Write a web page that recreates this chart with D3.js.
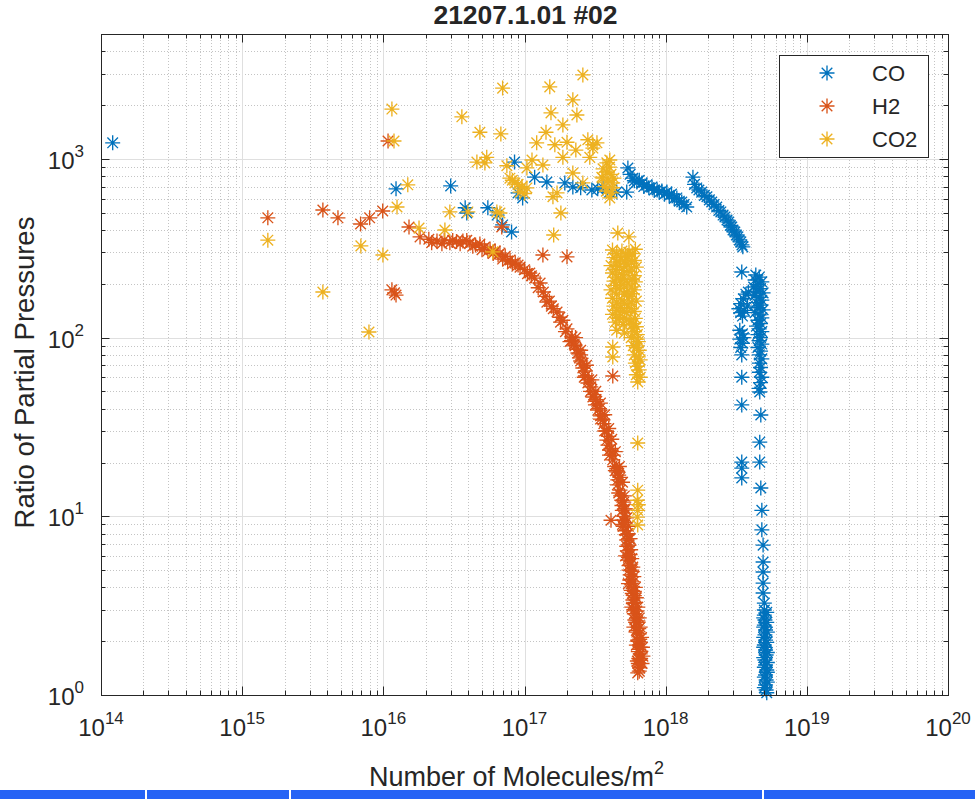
<!DOCTYPE html>
<html>
<head>
<meta charset="utf-8">
<script src="https://cdn.jsdelivr.net/npm/d3@7"></script>
<style>
  body { margin: 0; background: #fff; }
  text { font-family: "Liberation Sans", Arial, sans-serif; fill: #262626; }
</style>
</head>
<body>
<script>
// chart values: [molecules per m^2, ratio]
const co = [
  [1.21e14, 1230], [1.23e16, 680], [3.0e16, 706], [3.8e16, 533], [3.9e16, 498],
  [5.5e16, 533], [6.4e16, 485], [7.0e16, 427], [8.1e16, 390], [8.5e16, 960],
  [9.0e16, 645], [9.7e16, 605], [1.18e17, 790], [1.44e17, 743], [1.93e17, 734],
  [2.2e17, 697], [2.5e17, 690], [3.0e17, 670], [3.3e17, 680], [3.6e17, 688],
  [4.0e17, 652], [4.5e17, 652], [5.3e17, 652],
  [5.4e17, 890], [5.6e17, 820], [5.85e17, 780], [6.0e17, 755], [6.25e17, 743],
  [6.5e17, 760], [6.8e17, 734], [7.0e17, 700], [7.35e17, 715], [7.6e17, 690],
  [8.0e17, 697], [8.3e17, 670], [8.7e17, 670], [9.0e17, 650], [9.4e17, 661],
  [9.8e17, 635], [1.02e18, 652], [1.06e18, 625], [1.1e18, 636], [1.15e18, 600],
  [1.2e18, 605], [1.25e18, 580], [1.3e18, 574], [1.35e18, 555], [1.41e18, 538],
  [1.56e18, 790], [1.6e18, 720], [1.66e18, 688], [1.72e18, 670], [1.8e18, 652],
  [1.88e18, 625], [1.96e18, 614], [2.04e18, 590], [2.12e18, 574], [2.2e18, 555],
  [2.3e18, 538], [2.38e18, 515], [2.46e18, 505], [2.55e18, 485], [2.63e18, 473],
  [2.72e18, 455], [2.8e18, 443], [2.87e18, 425], [2.94e18, 416], [3.0e18, 400],
  [3.09e18, 390], [3.17e18, 375], [3.25e18, 366], [3.33e18, 352], [3.41e18, 343],
  [3.47e18, 330], [3.52e18, 322],
  [3.46e18, 233], [4.35e18, 224],
  [4.6e18, 218], [4.3e18, 210], [4.8e18, 205], [4.5e18, 198], [4.2e18, 192],
  [4.7e18, 188], [4.4e18, 182], [4.9e18, 178], [4.3e18, 172], [4.6e18, 168],
  [4.8e18, 162], [4.4e18, 157], [4.7e18, 152], [4.5e18, 147], [4.9e18, 143],
  [4.3e18, 138], [4.6e18, 134], [4.8e18, 129], [4.5e18, 125], [4.7e18, 120],
  [4.4e18, 116], [4.6e18, 112], [4.8e18, 108], [4.5e18, 104], [4.7e18, 100],
  [4.6e18, 96], [4.8e18, 92], [4.5e18, 88], [4.7e18, 84], [4.6e18, 80],
  [4.8e18, 76], [4.6e18, 72], [4.7e18, 68], [4.6e18, 64], [4.8e18, 60],
  [4.7e18, 56], [4.6e18, 52], [4.64e18, 49.6],
  [3.3e18, 145], [3.4e18, 155], [3.55e18, 165], [3.7e18, 175], [3.85e18, 180],
  [3.4e18, 138], [3.6e18, 142], [3.8e18, 150], [3.5e18, 132],
  [3.35e18, 110], [3.5e18, 105], [3.35e18, 98], [3.5e18, 93], [3.4e18, 88], [3.55e18, 100],
  [3.46e18, 80], [3.46e18, 60], [3.46e18, 42], [4.72e18, 36.9], [4.64e18, 26],
  [3.46e18, 20.1], [3.46e18, 18.6], [3.46e18, 16.4], [4.64e18, 20.1], [4.72e18, 14.4],
  [4.8e18, 10.8], [4.8e18, 8.4], [4.9e18, 6.9], [4.9e18, 5.55], [4.9e18, 4.88],
  [4.9e18, 4.23], [4.9e18, 3.72], [5.0e18, 3.27], [5.0e18, 2.99], [5.0e18, 2.8],
  [5.05e18, 2.63], [5.0e18, 2.46], [5.1e18, 2.31], [5.05e18, 2.17], [5.1e18, 2.03],
  [5.0e18, 1.905], [5.1e18, 1.786], [5.15e18, 1.674], [5.05e18, 1.57], [5.1e18, 1.472],
  [5.2e18, 1.38], [5.1e18, 1.294], [5.15e18, 1.213], [5.1e18, 1.137], [5.15e18, 1.066],
  [5.2e18, 2.9], [4.95e18, 2.7], [5.2e18, 2.55], [4.95e18, 2.4], [5.25e18, 2.25],
  [4.95e18, 2.1], [5.2e18, 1.97], [4.95e18, 1.85], [5.25e18, 1.73], [4.95e18, 1.62],
  [5.25e18, 1.52], [5.0e18, 1.43], [5.25e18, 1.34], [5.0e18, 1.26], [5.25e18, 1.18],
  [5.0e18, 1.1], [5.2e18, 1.03]
]

const h2 = [
  [1.52e15, 468], [3.73e15, 518], [4.77e15, 468], [6.9e15, 432], [8.0e15, 468],
  [9.9e15, 511], [1.08e16, 1260], [1.15e16, 185], [1.2e16, 178], [1.23e16, 173],
  [1.35e17, 290], [2.0e17, 283], [4.22e17, 61], [6.9e16, 416], [4.1e17, 9.5], [4.58e17, 17.7],
  [1.52e16, 416], [1.82e16, 366], [2.1e16, 355], [2.4e16, 347], [2.7e16, 352],
  [2.96e16, 339], [3.3e16, 345], [3.66e16, 347], [4.1e16, 339], [4.5e16, 330],
  [4.83e16, 334], [5.2e16, 320], [5.7e16, 313], [6.2e16, 305], [6.7e16, 297],
  [7.3e16, 285], [7.9e16, 272], [8.6e16, 262], [9.3e16, 248], [1.0e17, 240],
  [1.09e17, 230], [1.18e17, 215], [1.29e17, 202], [1.36e17, 180], [1.44e17, 158],
  [1.55e17, 150], [1.7e17, 139], [1.78e17, 130], [1.87e17, 125], [2.0e17, 112],
  [2.17e17, 101], [2.28e17, 90], [2.39e17, 82], [2.5e17, 74], [2.59e17, 67.6],
  [2.7e17, 61], [2.81e17, 55.7], [2.93e17, 50], [3.05e17, 46.5], [3.18e17, 42],
  [3.31e17, 39.3], [3.45e17, 36.5], [3.59e17, 34.6], [3.7e17, 30], [3.83e17, 26.7],
  [4.0e17, 23.5], [4.22e17, 20.7], [4.4e17, 18], [4.58e17, 16.0], [4.75e17, 14],
  [4.89e17, 12.3], [4.93e17, 10.8], [4.97e17, 9.5], [5.15e17, 8.3], [5.3e17, 7.37],
  [5.35e17, 6.4], [5.39e17, 5.69], [5.5e17, 5.0], [5.57e17, 4.4], [5.7e17, 3.85],
  [5.86e17, 3.4], [5.95e17, 3.0], [6.05e17, 2.63], [6.2e17, 2.3], [6.34e17, 2.03],
  [6.45e17, 1.8], [6.55e17, 1.57], [6.45e17, 1.45], [6.34e17, 1.33],
  [2.3e17, 100], [2.5e17, 85], [2.75e17, 70], [3.0e17, 58], [3.2e17, 50],
  [3.45e17, 43], [3.7e17, 37], [3.95e17, 31], [4.15e17, 27], [4.4e17, 23],
  [4.7e17, 19], [4.95e17, 15.5], [5.1e17, 13], [5.2e17, 11], [5.3e17, 9.8],
  [5.45e17, 8.8], [5.6e17, 7.5], [5.65e17, 6.5], [5.75e17, 5.8], [5.85e17, 5.2],
  [5.95e17, 4.6], [6.1e17, 4.0], [6.2e17, 3.5], [6.35e17, 3.1], [6.5e17, 2.7],
  [6.6e17, 2.4], [6.75e17, 2.1], [6.85e17, 1.85], [6.9e17, 1.65], [6.8e17, 1.5],
  [1.25e17, 190], [1.4e17, 170], [1.5e17, 160], [1.6e17, 145], [1.8e17, 122],
  [1.95e17, 108], [2.1e17, 95],
  [2.2e16, 340], [2.6e16, 335], [3.1e16, 350], [3.5e16, 335], [3.9e16, 350],
  [4.3e16, 325], [5.0e16, 310], [5.5e16, 305], [6.0e16, 296], [6.5e16, 290],
  [7.0e16, 275], [7.6e16, 268], [8.2e16, 258], [9.0e16, 255], [1.05e17, 228], [1.12e17, 222],
  [2.15e17, 96], [2.5e17, 80], [2.65e17, 60], [3.2e17, 45], [3.45e17, 35],
  [3.95e17, 28], [4.0e17, 22], [4.65e17, 17], [4.65e17, 13.5], [5.1e17, 11],
  [4.95e17, 9], [5.5e17, 7.5], [5.2e17, 6], [5.75e17, 5], [5.45e17, 4.2],
  [6.0e17, 3.6], [5.75e17, 3.1], [6.25e17, 2.7], [5.95e17, 2.4], [6.5e17, 2.2],
  [6.2e17, 1.9], [6.6e17, 1.7], [6.3e17, 1.55], [6.55e17, 1.42], [6.5e17, 1.36],
  [2.25e17, 92], [2.35e17, 86], [2.45e17, 77], [2.6e17, 72], [2.7e17, 65],
  [2.85e17, 58], [2.95e17, 53], [3.1e17, 48], [3.25e17, 44], [3.4e17, 40],
  [3.55e17, 37], [3.65e17, 33], [3.8e17, 30], [3.9e17, 25], [4.1e17, 24],
  [4.25e17, 22], [4.35e17, 19], [4.5e17, 18.5], [4.55e17, 15], [4.75e17, 16.5],
  [4.8e17, 13], [4.9e17, 11.5], [5.05e17, 12], [5.05e17, 10], [5.0e17, 8.8],
  [5.2e17, 9.2], [5.25e17, 7.9], [5.4e17, 8], [5.3e17, 6.8], [5.5e17, 6.9],
  [5.45e17, 5.9], [5.6e17, 6.1], [5.5e17, 5.3], [5.65e17, 5.4], [5.6e17, 4.7],
  [5.8e17, 4.9], [5.7e17, 4.2], [5.9e17, 4.3], [5.8e17, 3.7], [6.0e17, 3.8],
  [5.9e17, 3.25], [6.1e17, 3.3], [6.0e17, 2.85], [6.25e17, 2.95], [6.15e17, 2.55],
  [6.35e17, 2.6], [6.25e17, 2.25], [6.45e17, 2.35], [6.35e17, 2.0], [6.55e17, 2.05],
  [6.4e17, 1.75], [6.6e17, 1.85], [6.45e17, 1.6], [6.65e17, 1.6], [6.4e17, 1.5]
]

const co2 = [
  [1.52e15, 351], [3.73e15, 180], [6.93e15, 326], [7.91e15, 107.5], [9.93e15, 290],
  [1.15e16, 1900], [1.19e16, 1260], [1.25e16, 538], [1.49e16, 716], [1.79e16, 410],
  [2.73e16, 400], [2.96e16, 505], [3.6e16, 1720], [3.97e16, 505], [4.6e16, 960],
  [4.83e16, 1410], [5.24e16, 950], [5.4e16, 1020], [5.97e16, 302], [6.37e16, 505],
  [6.7e16, 498], [6.8e16, 1380], [7.0e16, 2490], [7.5e16, 915], [7.88e16, 780],
  [8.55e16, 734], [9.3e16, 652], [8.2e16, 760], [9.6e16, 700], [9.0e16, 720], [1.0e17, 640],
  [1.04e17, 890], [1.04e17, 688], [1.13e17, 986], [1.22e17, 1230], [1.35e17, 925],
  [1.42e17, 1410], [1.51e17, 2530], [1.54e17, 1810], [1.59e17, 614], [1.61e17, 375],
  [1.64e17, 1200], [1.7e17, 645], [1.81e17, 498], [1.87e17, 1550], [1.87e17, 1020],
  [2.0e17, 1240], [2.2e17, 2140], [2.2e17, 834], [2.31e17, 1120], [2.35e17, 1760],
  [2.59e17, 2950], [2.59e17, 734], [2.81e17, 1280], [2.9e17, 1020], [3.05e17, 1150],
  [3.05e17, 1200], [3.26e17, 1230], [3.53e17, 790], [3.59e17, 780], [3.83e17, 845],
  [3.83e17, 950], [4.02e17, 986], [4.02e17, 605], [4.15e17, 645], [4.22e17, 734],
  [3.7e17, 700], [3.9e17, 760], [4.1e17, 820], [3.8e17, 660], [4.2e17, 690],
  [3.6e17, 880], [4.0e17, 900], [4.3e17, 780],
  [4.58e17, 385], [5.49e17, 366],
  [4.2e17, 309], [4.9e17, 305], [5.5e17, 300], [6.1e17, 312],
  [4.3e17, 280], [4.8e17, 275], [5.4e17, 285], [6.0e17, 270],
  [4.1e17, 253], [4.7e17, 250], [5.3e17, 258], [6.2e17, 248],
  [4.2e17, 230], [4.9e17, 226], [5.5e17, 235], [6.0e17, 222],
  [4.3e17, 207], [4.8e17, 210], [5.4e17, 200], [6.1e17, 205],
  [4.1e17, 185], [4.7e17, 188], [5.3e17, 180], [6.0e17, 185],
  [4.2e17, 166], [4.9e17, 162], [5.5e17, 170], [6.2e17, 160],
  [4.3e17, 150], [4.8e17, 147], [5.4e17, 152], [6.0e17, 140],
  [4.2e17, 135], [4.7e17, 130], [5.3e17, 138], [6.1e17, 128],
  [4.4e17, 122], [5.0e17, 118], [5.6e17, 124], [6.2e17, 115],
  [4.5e17, 110], [5.1e17, 106], [5.8e17, 112], [6.3e17, 104],
  [5.7e17, 100], [6.4e17, 95], [5.9e17, 90], [6.5e17, 85], [6.0e17, 80],
  [6.6e17, 75], [6.1e17, 72], [6.5e17, 66], [6.2e17, 62], [6.6e17, 60], [6.34e17, 56.4],
  [4.5e17, 295], [5.2e17, 290], [5.8e17, 295], [4.5e17, 265], [5.1e17, 268],
  [5.7e17, 262], [4.4e17, 240], [5.0e17, 238], [5.7e17, 245], [4.5e17, 218],
  [5.1e17, 215], [5.8e17, 212], [4.4e17, 196], [5.0e17, 198], [5.7e17, 192],
  [4.5e17, 175], [5.1e17, 175], [5.8e17, 176], [4.5e17, 158], [5.1e17, 155],
  [5.7e17, 158], [4.5e17, 142], [5.1e17, 140], [5.7e17, 145], [4.6e17, 128],
  [5.3e17, 126], [5.9e17, 120], [6.0e17, 108], [6.3e17, 98], [6.2e17, 88],
  [6.4e17, 78], [6.3e17, 69],
  [4.22e17, 88.6], [4.22e17, 77.9],
  [6.34e17, 25.7], [6.34e17, 14.0], [6.3e17, 12.3], [6.4e17, 11.6], [6.34e17, 10.8],
  [6.3e17, 9.9], [6.34e17, 8.94]
]

const seriesNames = ['CO', 'H2', 'CO2']
const seriesColors = ['#0072BD', '#D95319', '#EDB120']
const xTicks = [1e14, 1e15, 1e16, 1e17, 1e18, 1e19, 1e20]
const xTickExp = ['14', '15', '16', '17', '18', '19', '20']
const yTicks = [1, 10, 100, 1000]
const yTickExp = ['0', '1', '2', '3']

// layout
const m = { width: 975, height: 799, left: 101, right: 948, top: 34, bottom: 695 }

const svg = d3.select('body').append('svg')
  .attr('width', m.width)
  .attr('height', m.height)

const x = d3.scaleLog().domain([1e14, 1e20]).range([m.left, m.right])
const y = d3.scaleLog().domain([1, 5000]).range([m.bottom, m.top])

// minor tick positions 2..9 per decade
const minorOf = (lo, hi, max) => {
  const out = []
  for (let e = lo; e <= hi; e++) for (let k = 2; k <= 9; k++) {
    const v = k * Math.pow(10, e)
    if (v < max) out.push(v)
  }
  return out
}
const xMinor = minorOf(14, 19, 1e20)
const yMinor = minorOf(0, 3, 5000)

const px = v => Math.round(x(v)) + 0.5
const py = v => Math.round(y(v)) + 0.5

// grid
const grid = svg.append('g')
grid.selectAll('.xm').data(xMinor).join('line')
  .attr('x1', px).attr('x2', px).attr('y1', m.top).attr('y2', m.bottom)
  .attr('stroke', '#c4c4c4').attr('stroke-dasharray', '1,2')
grid.selectAll('.ym').data(yMinor).join('line')
  .attr('y1', py).attr('y2', py).attr('x1', m.left).attr('x2', m.right)
  .attr('stroke', '#c4c4c4').attr('stroke-dasharray', '1,2')
grid.selectAll('.xg').data(xTicks).join('line')
  .attr('x1', px).attr('x2', px).attr('y1', m.top).attr('y2', m.bottom)
  .attr('stroke', '#dfdfdf')
grid.selectAll('.yg').data(yTicks).join('line')
  .attr('y1', py).attr('y2', py).attr('x1', m.left).attr('x2', m.right)
  .attr('stroke', '#dfdfdf')

// markers
const r = 7.5, d = 5.3
const star = `M${-r},0H${r}M0,${-r}V${r}M${-d},${-d}L${d},${d}M${-d},${d}L${d},${-d}`

const plot = svg.append('g')
;[co, h2, co2].forEach((data, i) => {
  plot.append('g').selectAll('path')
    .data(data)
    .join('path')
    .attr('transform', p => `translate(${x(p[0])},${y(p[1])})`)
    .attr('d', star)
    .attr('fill', 'none')
    .attr('stroke', seriesColors[i])
    .attr('stroke-width', 1.35)
})

// axes (ticks inward on all four sides)
const axisCol = '#262626'
const tk = (g, vals, len, orient) => {
  g.selectAll(null).data(vals).join('line')
    .attr('stroke', axisCol)
    .each(function (v) {
      const l = d3.select(this)
      if (orient === 'b') l.attr('x1', px(v)).attr('x2', px(v)).attr('y1', m.bottom).attr('y2', m.bottom - len)
      if (orient === 't') l.attr('x1', px(v)).attr('x2', px(v)).attr('y1', m.top).attr('y2', m.top + len)
      if (orient === 'l') l.attr('y1', py(v)).attr('y2', py(v)).attr('x1', m.left).attr('x2', m.left + len)
      if (orient === 'r') l.attr('y1', py(v)).attr('y2', py(v)).attr('x1', m.right).attr('x2', m.right - len)
    })
}
const axes = svg.append('g')
;['b', 't'].forEach(o => { tk(axes, xTicks, 8.5, o); tk(axes, xMinor, 4.5, o) })
;['l', 'r'].forEach(o => { tk(axes, yTicks, 8.5, o); tk(axes, yMinor, 4.5, o) })
axes.append('rect')
  .attr('x', m.left + 0.5).attr('y', m.top + 0.5)
  .attr('width', m.right - m.left).attr('height', m.bottom - m.top)
  .attr('fill', 'none').attr('stroke', axisCol)

// tick labels
const xl = svg.append('g')
xTicks.forEach((v, i) => {
  const t = xl.append('text')
    .attr('x', x(v)).attr('y', 736)
    .attr('text-anchor', 'middle')
    .attr('font-size', 24)
  t.append('tspan').text('10')
  t.append('tspan').attr('font-size', 17).attr('dy', -12).text(xTickExp[i])
})
yTicks.forEach((v, i) => {
  const t = xl.append('text')
    .attr('x', 84).attr('y', y(v) + 10)
    .attr('text-anchor', 'end')
    .attr('font-size', 24)
  t.append('tspan').text('10')
  t.append('tspan').attr('font-size', 17).attr('dy', -12).text(yTickExp[i])
})

// axis labels and title
const xt = svg.append('text')
  .attr('x', (m.left + m.right) / 2 - 8).attr('y', 786)
  .attr('text-anchor', 'middle')
  .attr('font-size', 27)
xt.append('tspan').text('Number of Molecules/m')
xt.append('tspan').attr('font-size', 18).attr('dy', -12).text('2')

svg.append('text')
  .attr('transform', `translate(34,${(m.top + m.bottom) / 2 + 8})rotate(-90)`)
  .attr('text-anchor', 'middle')
  .attr('font-size', 27.5)
  .text('Ratio of Partial Pressures')

svg.append('text')
  .attr('x', (m.left + m.right) / 2 + 1).attr('y', 24)
  .attr('text-anchor', 'middle')
  .attr('font-size', 26.5)
  .attr('font-weight', 'bold')
  .text('21207.1.01 #02')

// legend
const lg = svg.append('g')
lg.append('rect')
  .attr('x', 779.5).attr('y', 55.5).attr('width', 149).attr('height', 102)
  .attr('fill', '#fff').attr('stroke', axisCol)
seriesNames.forEach((n, i) => {
  const yy = 73 + i * 33
  lg.append('path')
    .attr('transform', `translate(827,${yy})`)
    .attr('d', star)
    .attr('fill', 'none')
    .attr('stroke', seriesColors[i])
    .attr('stroke-width', 1.35)
  lg.append('text')
    .attr('x', 872).attr('y', yy + 8)
    .attr('font-size', 22)
    .text(n)
})

// blue strip along the bottom edge of the screenshot
const strip = [[0, 145], [147, 289], [291, 762], [764, 975]]
svg.append('g').selectAll('rect').data(strip).join('rect')
  .attr('x', s => s[0]).attr('width', s => s[1] - s[0])
  .attr('y', 790).attr('height', 9)
  .attr('fill', '#2563f5')
</script>
</body>
</html>
